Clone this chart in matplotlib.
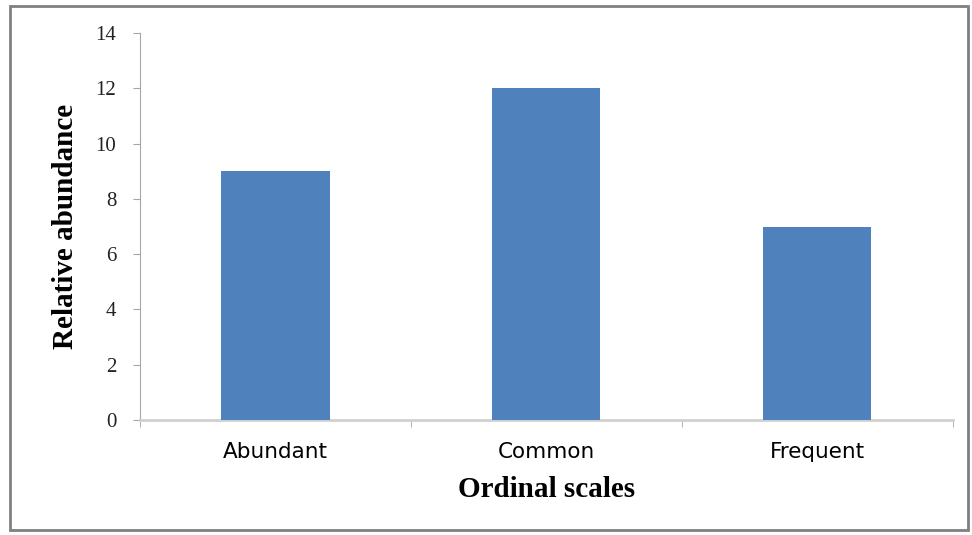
import matplotlib.pyplot as plt
from matplotlib.patches import Rectangle

categories = ["Abundant", "Common", "Frequent"]
values = [9, 12, 7]
y_ticks = [0, 2, 4, 6, 8, 10, 12, 14]

fig = plt.figure(figsize=(9.72, 5.35), dpi=100)
ax = fig.add_axes([0.144, 0.215, 0.836, 0.723])

x = range(len(categories))
ax.bar(x, values, width=0.4, color="#4F81BD", zorder=3)

ax.set_xlim(-0.5, 2.5)
ax.set_ylim(0, 14)
ax.set_yticks(y_ticks)
ax.set_yticklabels([str(t) for t in y_ticks], fontfamily="Liberation Serif", fontsize=15)

# category labels in the middle, tick marks at the boundaries
ax.set_xticks(list(x))
ax.set_xticklabels(categories, fontfamily="DejaVu Sans", fontsize=15.5)
ax.tick_params(axis="x", length=0, pad=16)
ax.set_xticks([-0.5, 0.5, 1.5, 2.5], minor=True)
ax.tick_params(axis="x", which="minor", length=5, color="#A6A6A6", direction="out")
ax.tick_params(axis="y", length=5, color="#A6A6A6", pad=12, colors="#222222")

for side in ["top", "right"]:
    ax.spines[side].set_visible(False)
ax.spines["left"].set_color("#A6A6A6")
ax.spines["bottom"].set_color("#D0D0D0")
ax.spines["bottom"].set_linewidth(2)

ax.set_xlabel("Ordinal scales", fontfamily="Liberation Serif", fontweight="bold", fontsize=21, labelpad=10)
ax.set_ylabel("Relative abundance", fontfamily="Liberation Serif", fontweight="bold", fontsize=21, labelpad=12)

# outer frame around the whole chart
fig.patches.append(Rectangle((10 / 972, 5 / 535), 958 / 972, 524 / 535, transform=fig.transFigure,
                             fill=False, edgecolor="#808080", linewidth=2))

plt.savefig("out.png", dpi=100)
